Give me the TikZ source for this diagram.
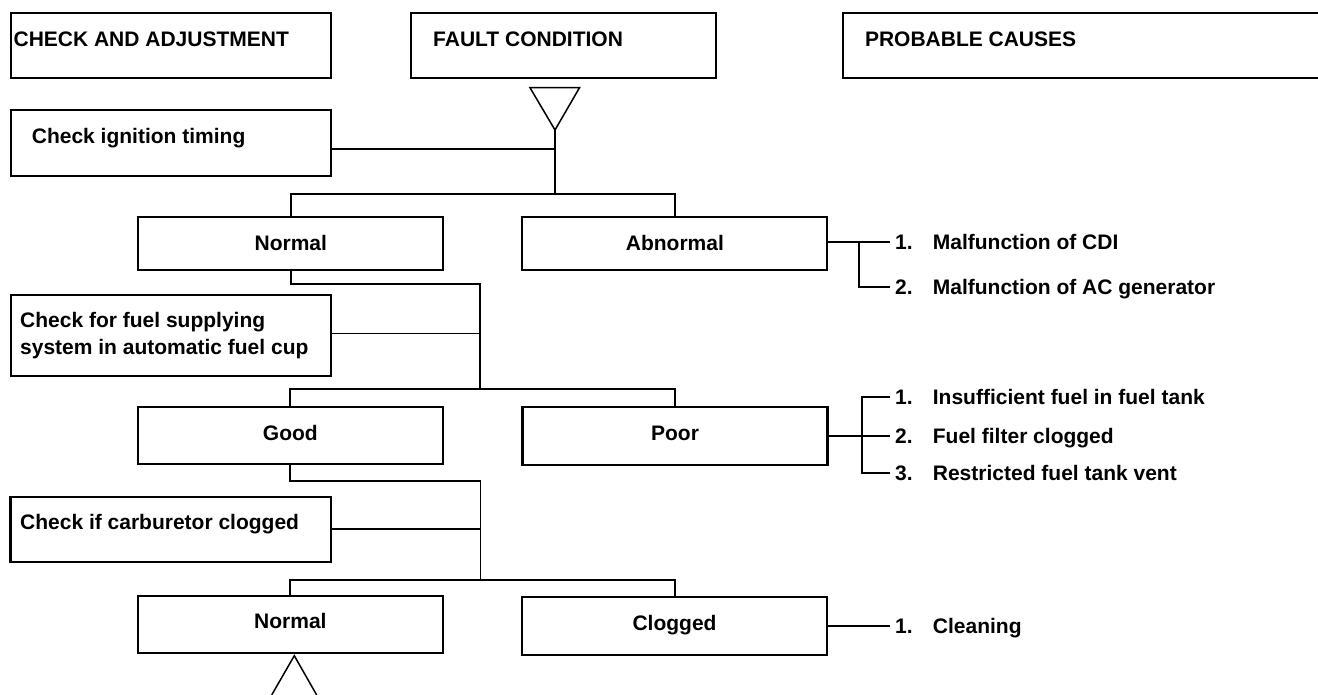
\documentclass[tikz,border=0pt]{standalone}
\usepackage{fontspec}
\setmainfont{Liberation Sans}
\usetikzlibrary{calc}
\tikzset{>=latex}
\tikzset{
  frame/.style={draw, line width=2.2pt, inner sep=0pt},
  link/.style={line width=1.9pt},
  tri/.style={line width=1.5pt, line join=miter},
  txt/.style={font=\bfseries\fontsize{21}{26}\selectfont, inner sep=0pt, text height=15pt, text depth=0pt},
  side/.style={frame, minimum width=320.3pt},
  mid/.style={frame, txt, minimum width=305pt, minimum height=57pt},
  cause/.style={txt, anchor=west, inner xsep=5pt},
}

\begin{document}
\begin{tikzpicture}[x=1pt, y=-1pt]
\useasboundingbox (0,0) rectangle (1318,695);
\node[side, minimum height=65pt] (hd1) at (170.85,45.8) {};
\node[frame, minimum width=305.1pt, minimum height=65pt] (hd2) at (563.25,45.8) {};
\draw[line width=2.2pt] (1318,13.3) -| (842.7,78.3) -- (1318,78.3);
\node[txt, anchor=base west] (hdt1) at (13.4,46.7) {CHECK AND ADJUSTMENT};
\node[txt, anchor=base west] (hdt2) at (433,46.7) {FAULT CONDITION};
\node[txt, anchor=base west] (hdt3) at (864.8,46.7) {PROBABLE CAUSES};

\node[side, minimum height=65.7pt] (chk1) at (170.85,142.85) {};
\node[txt, anchor=base west] (chkt1) at (31.7,144) {Check ignition timing};
\node[mid, minimum height=53.3pt] (n1) at (290.8,243.35) {Normal};
\node[mid, minimum height=53.3pt] (abn) at (674.85,243.35) {Abnormal};

\node[side, minimum height=81pt] (chk2) at (170.85,335.5) {};
\node[txt, anchor=base west] (chkt2a) at (20,327.7) {Check for fuel supplying};
\node[txt, anchor=base west] (chkt2b) at (20,354) {system in automatic fuel cup};
\node[mid, text depth=6pt] (good) at (290.4,435.5) {Good};
\node[mid, text depth=6pt, minimum height=57.7pt] (poor) at (675,436.15) {Poor};

\node[side, minimum height=65.3pt] (chk3) at (170.65,529.35) {};
\node[txt, anchor=base west] (chkt3) at (20,529) {Check if carburetor clogged};
\node[mid, text depth=6pt] (n3) at (290.4,624.2) {Normal};
\node[mid, text depth=6pt, minimum height=58.3pt] (clog) at (674.55,625.85) {Clogged};

\node[cause] (c1) at (890,241.7) {\makebox[37.7pt][l]{1.}Malfunction of CDI};
\node[cause] (c2) at (890,287.3) {\makebox[37.7pt][l]{2.}Malfunction of AC generator};
\node[cause] (p1) at (890,396.7) {\makebox[37.7pt][l]{1.}Insufficient fuel in fuel tank};
\node[cause] (p2) at (890,436) {\makebox[37.7pt][l]{2.}Fuel filter clogged};
\node[cause] (p3) at (890,473.3) {\makebox[37.7pt][l]{3.}Restricted fuel tank vent};
\node[cause] (k1) at (890,626) {\makebox[37.7pt][l]{1.}Cleaning};

\draw[tri] (530,87.7) -- (579.5,87.7) -- (555,130) -- cycle;
\coordinate (apex1) at (555,130);
\coordinate (j1) at (555,194);
\coordinate (v2top) at (480.3,284);
\coordinate (v2bot) at (480.3,389);
\coordinate (v3top) at (480.5,481);
\coordinate (v3bot) at (480.5,580);

\draw[link] (apex1) -- (j1);
\draw[link] ([yshift=-6.5pt]chk1.east) -- ([yshift=-6.5pt]chk1.east -| apex1);
\draw[link] (n1.north) |- (j1) -| (abn.north);
\draw[link] (n1.south) |- (v2top) -- (v2bot);
\draw[link] ([yshift=2pt]chk2.east) -- ([yshift=2pt]chk2.east -| v2top);
\draw[link] (good.north) |- (v2bot) -| (poor.north);
\draw[link] (good.south) |- (v3top) -- (v3bot);
\draw[link] (chk3.east) -- (chk3.east -| v3top);
\draw[link] (n3.north) |- (v3bot) -| (clog.north);

\draw[link] (abn.east |- c1.west) -- (c1.west);
\draw[link] ([xshift=-30.7pt]c1.west) |- (c2.west);
\draw[link] (poor.east |- p2.west) -- (p2.west);
\draw[link] (p1.west) -| ([xshift=-28.3pt]p3.west) -- (p3.west);
\draw[link] (clog.east |- k1.west) -- (k1.west);

\draw[tri] (271.7,695) -- (294.3,655.7) -- (316.7,695);
\end{tikzpicture}
\end{document}
